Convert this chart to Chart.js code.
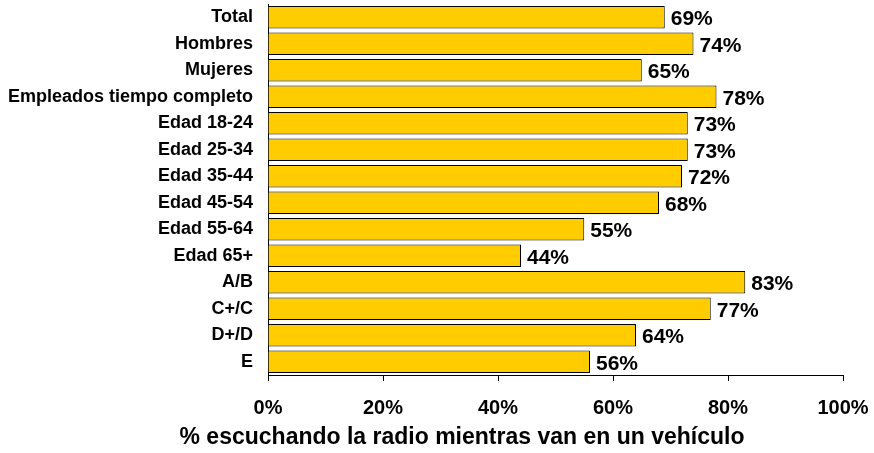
<!DOCTYPE html>
<html><head><meta charset="utf-8">
<script src="https://cdn.jsdelivr.net/npm/chart.js@4"></script>
<style>html,body{margin:0;padding:0;background:#fff}#wrap{width:874px;height:453px}</style>
</head><body><div id="wrap"><canvas id="c" width="874" height="453"></canvas></div>
<script>
const categories = ["Total","Hombres","Mujeres","Empleados tiempo completo","Edad 18-24","Edad 25-34","Edad 35-44","Edad 45-54","Edad 55-64","Edad 65+","A/B","C+/C","D+/D","E"];
const values = [69,74,65,78,73,73,72,68,55,44,83,77,64,56];
const xTicks = [0,20,40,60,80,100];
const axisTitle = "% escuchando la radio mientras van en un vehículo";
const FONT = "'Liberation Sans', Arial, sans-serif";

const labelPlugin = {
  id: 'valLabels',
  afterDatasetsDraw(chart) {
    const ctx = chart.ctx;
    const meta = chart.getDatasetMeta(0);
    ctx.save();
    ctx.font = "bold 21px " + FONT;
    ctx.fillStyle = '#000';
    ctx.textAlign = 'left';
    ctx.textBaseline = 'middle';
    meta.data.forEach((bar, i) => {
      ctx.fillText(values[i] + '%', bar.x + 6, bar.y + 2);
    });
    // axis title
    ctx.font = "bold 23px " + FONT;
    ctx.textAlign = 'center';
    ctx.fillText(axisTitle, 462, 438);
    ctx.restore();
  }
};

new Chart(document.getElementById('c'), {
  type: 'bar',
  data: { labels: categories, datasets: [{ data: values, backgroundColor: '#FFCC00', borderColor: '#000', borderWidth: 1, barPercentage: 0.84, categoryPercentage: 1 }] },
  options: {
    indexAxis: 'y', responsive: false, animation: false,
    layout: { padding: { top: 4, right: 31, left: 0, bottom: 0 } },
    plugins: { legend: { display: false }, tooltip: { enabled: false } },
    scales: {
      x: {
        min: 0, max: 100,
        afterBuildTicks(s) { s.ticks = xTicks.map(v => ({ value: v })); },
        afterFit(s) { s.height = 78; s.paddingLeft = 0; s.paddingRight = 0; },
        ticks: { callback: v => v + '%', color: '#000', font: { family: FONT, size: 20, weight: 'bold' }, padding: 15, maxRotation: 0 },
        grid: { drawOnChartArea: false, drawTicks: true, tickLength: 6, color: '#000' },
        border: { color: '#000', width: 1 }
      },
      y: {
        afterFit(s) { s.width = 268; s.paddingTop = 0; s.paddingBottom = 0; },
        ticks: { color: '#000', font: { family: FONT, size: 18, weight: 'bold' }, padding: 15, autoSkip: false },
        grid: { drawOnChartArea: false, drawTicks: false },
        border: { color: '#000', width: 1 }
      }
    }
  },
  plugins: [labelPlugin]
});
</script></body></html>
